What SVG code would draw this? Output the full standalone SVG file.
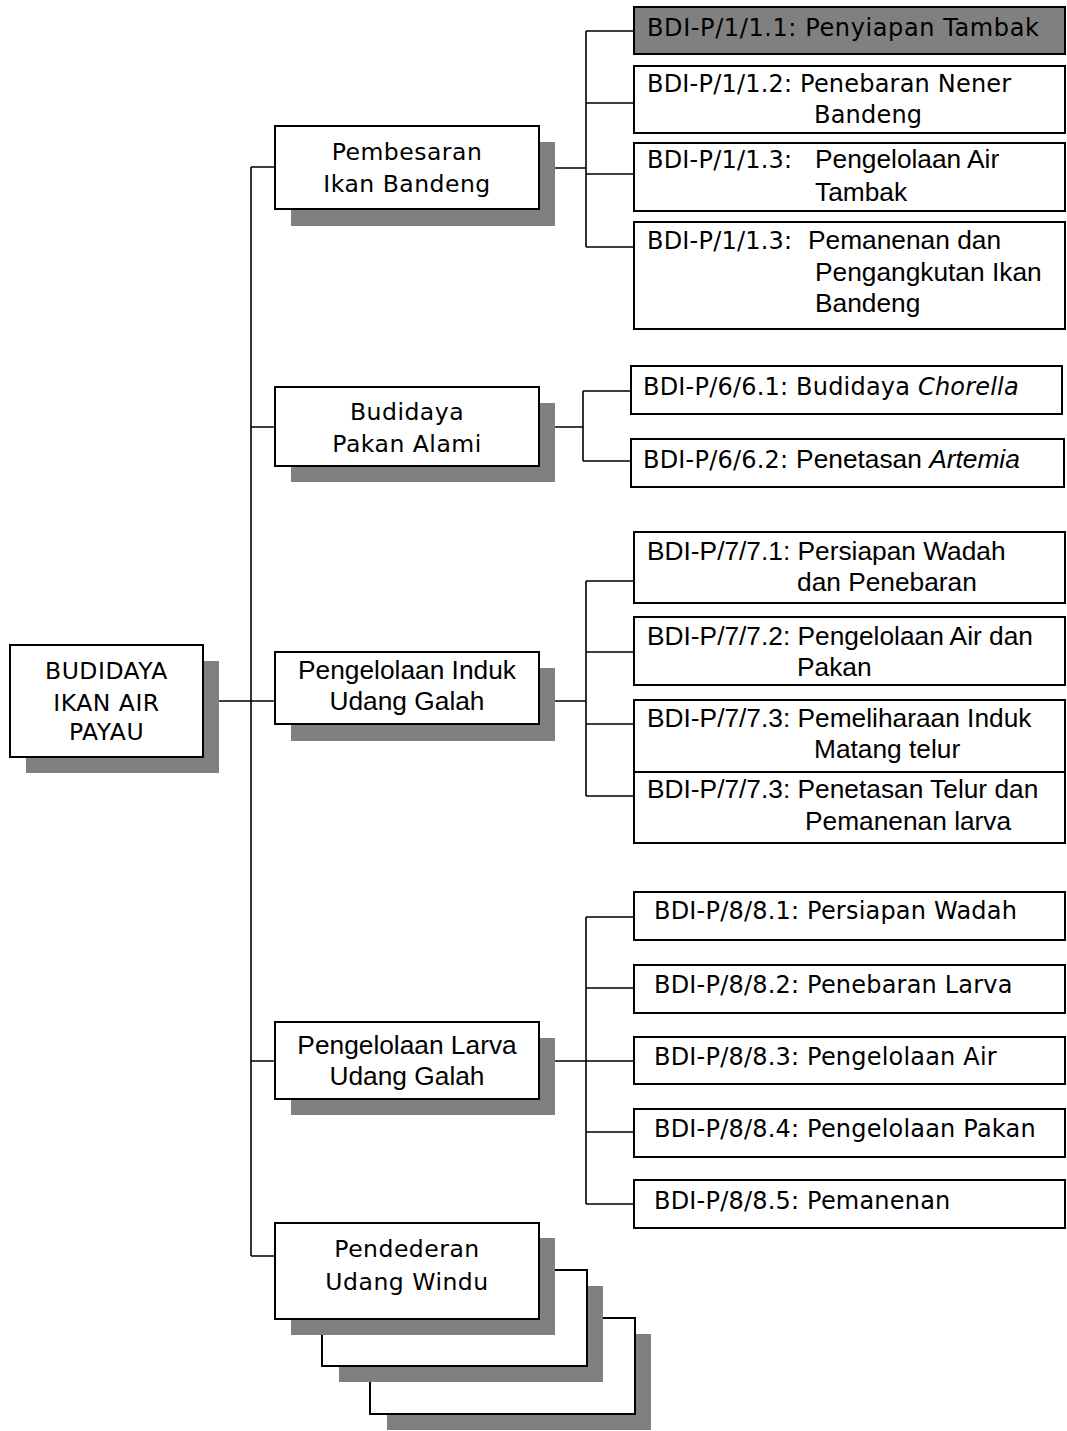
<svg xmlns="http://www.w3.org/2000/svg" width="1067" height="1431" viewBox="0 0 1067 1431">
<style>
.box{fill:#fff;stroke:#000;stroke-width:2}
.hl{fill:#808080;stroke:#000;stroke-width:2}
.sh{fill:#808080;stroke:none}
.ln{fill:none;stroke:#000;stroke-width:1.6}
.t{font-family:"DejaVu Sans",Verdana,sans-serif;font-size:24px;letter-spacing:0.2px;fill:#000}
.w{letter-spacing:0.6px}
.m{font-size:23.5px;letter-spacing:0.5px}
.a{font-family:"Liberation Sans",Arial,sans-serif;font-size:26.3px;letter-spacing:0;fill:#000}
.c{text-anchor:middle}
.i{font-style:italic}
</style>
<rect width="1067" height="1431" fill="#fff"/>
<g id="connectors">
<path class="ln" d="M203 701H251M251 167V1256M251 167H275M251 427H275M251 701H275M251 1061H275M251 1256H275"/>
<path class="ln" d="M539 168H586M586 31V247M586 31H634M586 103H634M586 174H634M586 247H634"/>
<path class="ln" d="M539 427H583M583 391V461M583 391H631M583 461H631"/>
<path class="ln" d="M539 701H586M586 581V796M586 581H634M586 652H634M586 724H634M586 796H634"/>
<path class="ln" d="M539 1061H586M586 917V1204M586 917H634M586 988H634M586 1061H634M586 1132H634M586 1204H634"/>
</g>
<g id="root">
<rect class="sh" x="26" y="661" width="193" height="112"/>
<rect class="box" x="10" y="645" width="193" height="112"/>
<text class="t m c" x="106.5" y="679">BUDIDAYA</text>
<text class="t m c" x="106.5" y="711">IKAN AIR</text>
<text class="t m c" x="106.5" y="740">PAYAU</text>
</g>
<g id="pembesaran">
<rect class="sh" x="291" y="142" width="264" height="84"/>
<rect class="box" x="275" y="126" width="264" height="83"/>
<text class="t m c" x="407" y="160">Pembesaran</text>
<text class="t m c" x="407" y="192">Ikan Bandeng</text>
</g>
<g id="pakan">
<rect class="sh" x="291" y="403" width="264" height="79"/>
<rect class="box" x="275" y="387" width="264" height="79"/>
<text class="t m c" x="407" y="420">Budidaya</text>
<text class="t m c" x="407" y="452">Pakan Alami</text>
</g>
<g id="induk">
<rect class="sh" x="291" y="668" width="264" height="73"/>
<rect class="box" x="275" y="652" width="264" height="72"/>
<text class="a c" x="407" y="679">Pengelolaan Induk</text>
<text class="a c" x="407" y="710">Udang Galah</text>
</g>
<g id="larva">
<rect class="sh" x="291" y="1038" width="264" height="77"/>
<rect class="box" x="275" y="1022" width="264" height="77"/>
<text class="a c" x="407" y="1054">Pengelolaan Larva</text>
<text class="a c" x="407" y="1085">Udang Galah</text>
</g>
<g id="pendederan">
<rect class="sh" x="387" y="1334" width="264" height="96"/>
<rect class="box" x="370" y="1318" width="265" height="96"/>
<rect class="sh" x="339" y="1286" width="264" height="96"/>
<rect class="box" x="322" y="1270" width="265" height="96"/>
<rect class="sh" x="291" y="1238" width="264" height="97"/>
<rect class="box" x="275" y="1223" width="264" height="96"/>
<text class="t m c" x="407" y="1257">Pendederan</text>
<text class="t m c" x="407" y="1290">Udang Windu</text>
</g>
<g id="p1-1">
<rect class="hl" x="634" y="7" width="431" height="47"/>
<text class="t w" x="647" y="36">BDI-P/1/1.1: Penyiapan Tambak</text>
</g>
<g id="p1-2">
<rect class="box" x="634" y="66" width="431" height="67"/>
<text class="t" x="647" y="92">BDI-P/1/1.2: Penebaran Nener</text>
<text class="t" x="814" y="123">Bandeng</text>
</g>
<g id="p1-3">
<rect class="box" x="634" y="143" width="431" height="68"/>
<text class="t" x="647" y="168">BDI-P/1/1.3:</text>
<text class="a" x="815" y="168">Pengelolaan Air</text>
<text class="a" x="815" y="201">Tambak</text>
</g>
<g id="p1-4">
<rect class="box" x="634" y="222" width="431" height="107"/>
<text class="t" x="647" y="249">BDI-P/1/1.3:</text>
<text class="a" x="808" y="249">Pemanenan dan</text>
<text class="a" x="815" y="281">Pengangkutan Ikan</text>
<text class="a" x="815" y="312">Bandeng</text>
</g>
<g id="p6-1">
<rect class="box" x="631" y="366" width="431" height="48"/>
<text class="t" x="643" y="395">BDI-P/6/6.1: Budidaya <tspan class="i">Chorella</tspan></text>
</g>
<g id="p6-2">
<rect class="box" x="631" y="439" width="433" height="48"/>
<text class="t" x="643" y="468">BDI-P/6/6.2: <tspan class="a">Penetasan </tspan><tspan class="a i">Artemia</tspan></text>
</g>
<g id="p7-1">
<rect class="box" x="634" y="532" width="431" height="71"/>
<text class="a" x="647" y="560">BDI-P/7/7.1: Persiapan Wadah</text>
<text class="a" x="797" y="591">dan Penebaran</text>
</g>
<g id="p7-2">
<rect class="box" x="634" y="617" width="431" height="68"/>
<text class="a" x="647" y="645">BDI-P/7/7.2: Pengelolaan Air dan</text>
<text class="a" x="797" y="676">Pakan</text>
</g>
<g id="p7-3">
<rect class="box" x="634" y="700" width="431" height="72"/>
<text class="a" x="647" y="727">BDI-P/7/7.3: Pemeliharaan Induk</text>
<text class="a" x="814" y="758">Matang telur</text>
</g>
<g id="p7-4">
<rect class="box" x="634" y="772" width="431" height="71"/>
<text class="a" x="647" y="798">BDI-P/7/7.3: Penetasan Telur dan</text>
<text class="a" x="805" y="830">Pemanenan larva</text>
</g>
<g id="p8-1">
<rect class="box" x="634" y="892" width="431" height="48"/>
<text class="t" x="654" y="919">BDI-P/8/8.1: Persiapan Wadah</text>
</g>
<g id="p8-2">
<rect class="box" x="634" y="965" width="431" height="48"/>
<text class="t" x="654" y="993">BDI-P/8/8.2: Penebaran Larva</text>
</g>
<g id="p8-3">
<rect class="box" x="634" y="1037" width="431" height="47"/>
<text class="t" x="654" y="1065">BDI-P/8/8.3: Pengelolaan Air</text>
</g>
<g id="p8-4">
<rect class="box" x="634" y="1109" width="431" height="48"/>
<text class="t" x="654" y="1137">BDI-P/8/8.4: Pengelolaan Pakan</text>
</g>
<g id="p8-5">
<rect class="box" x="634" y="1180" width="431" height="48"/>
<text class="t" x="654" y="1209">BDI-P/8/8.5: Pemanenan</text>
</g>
</svg>
